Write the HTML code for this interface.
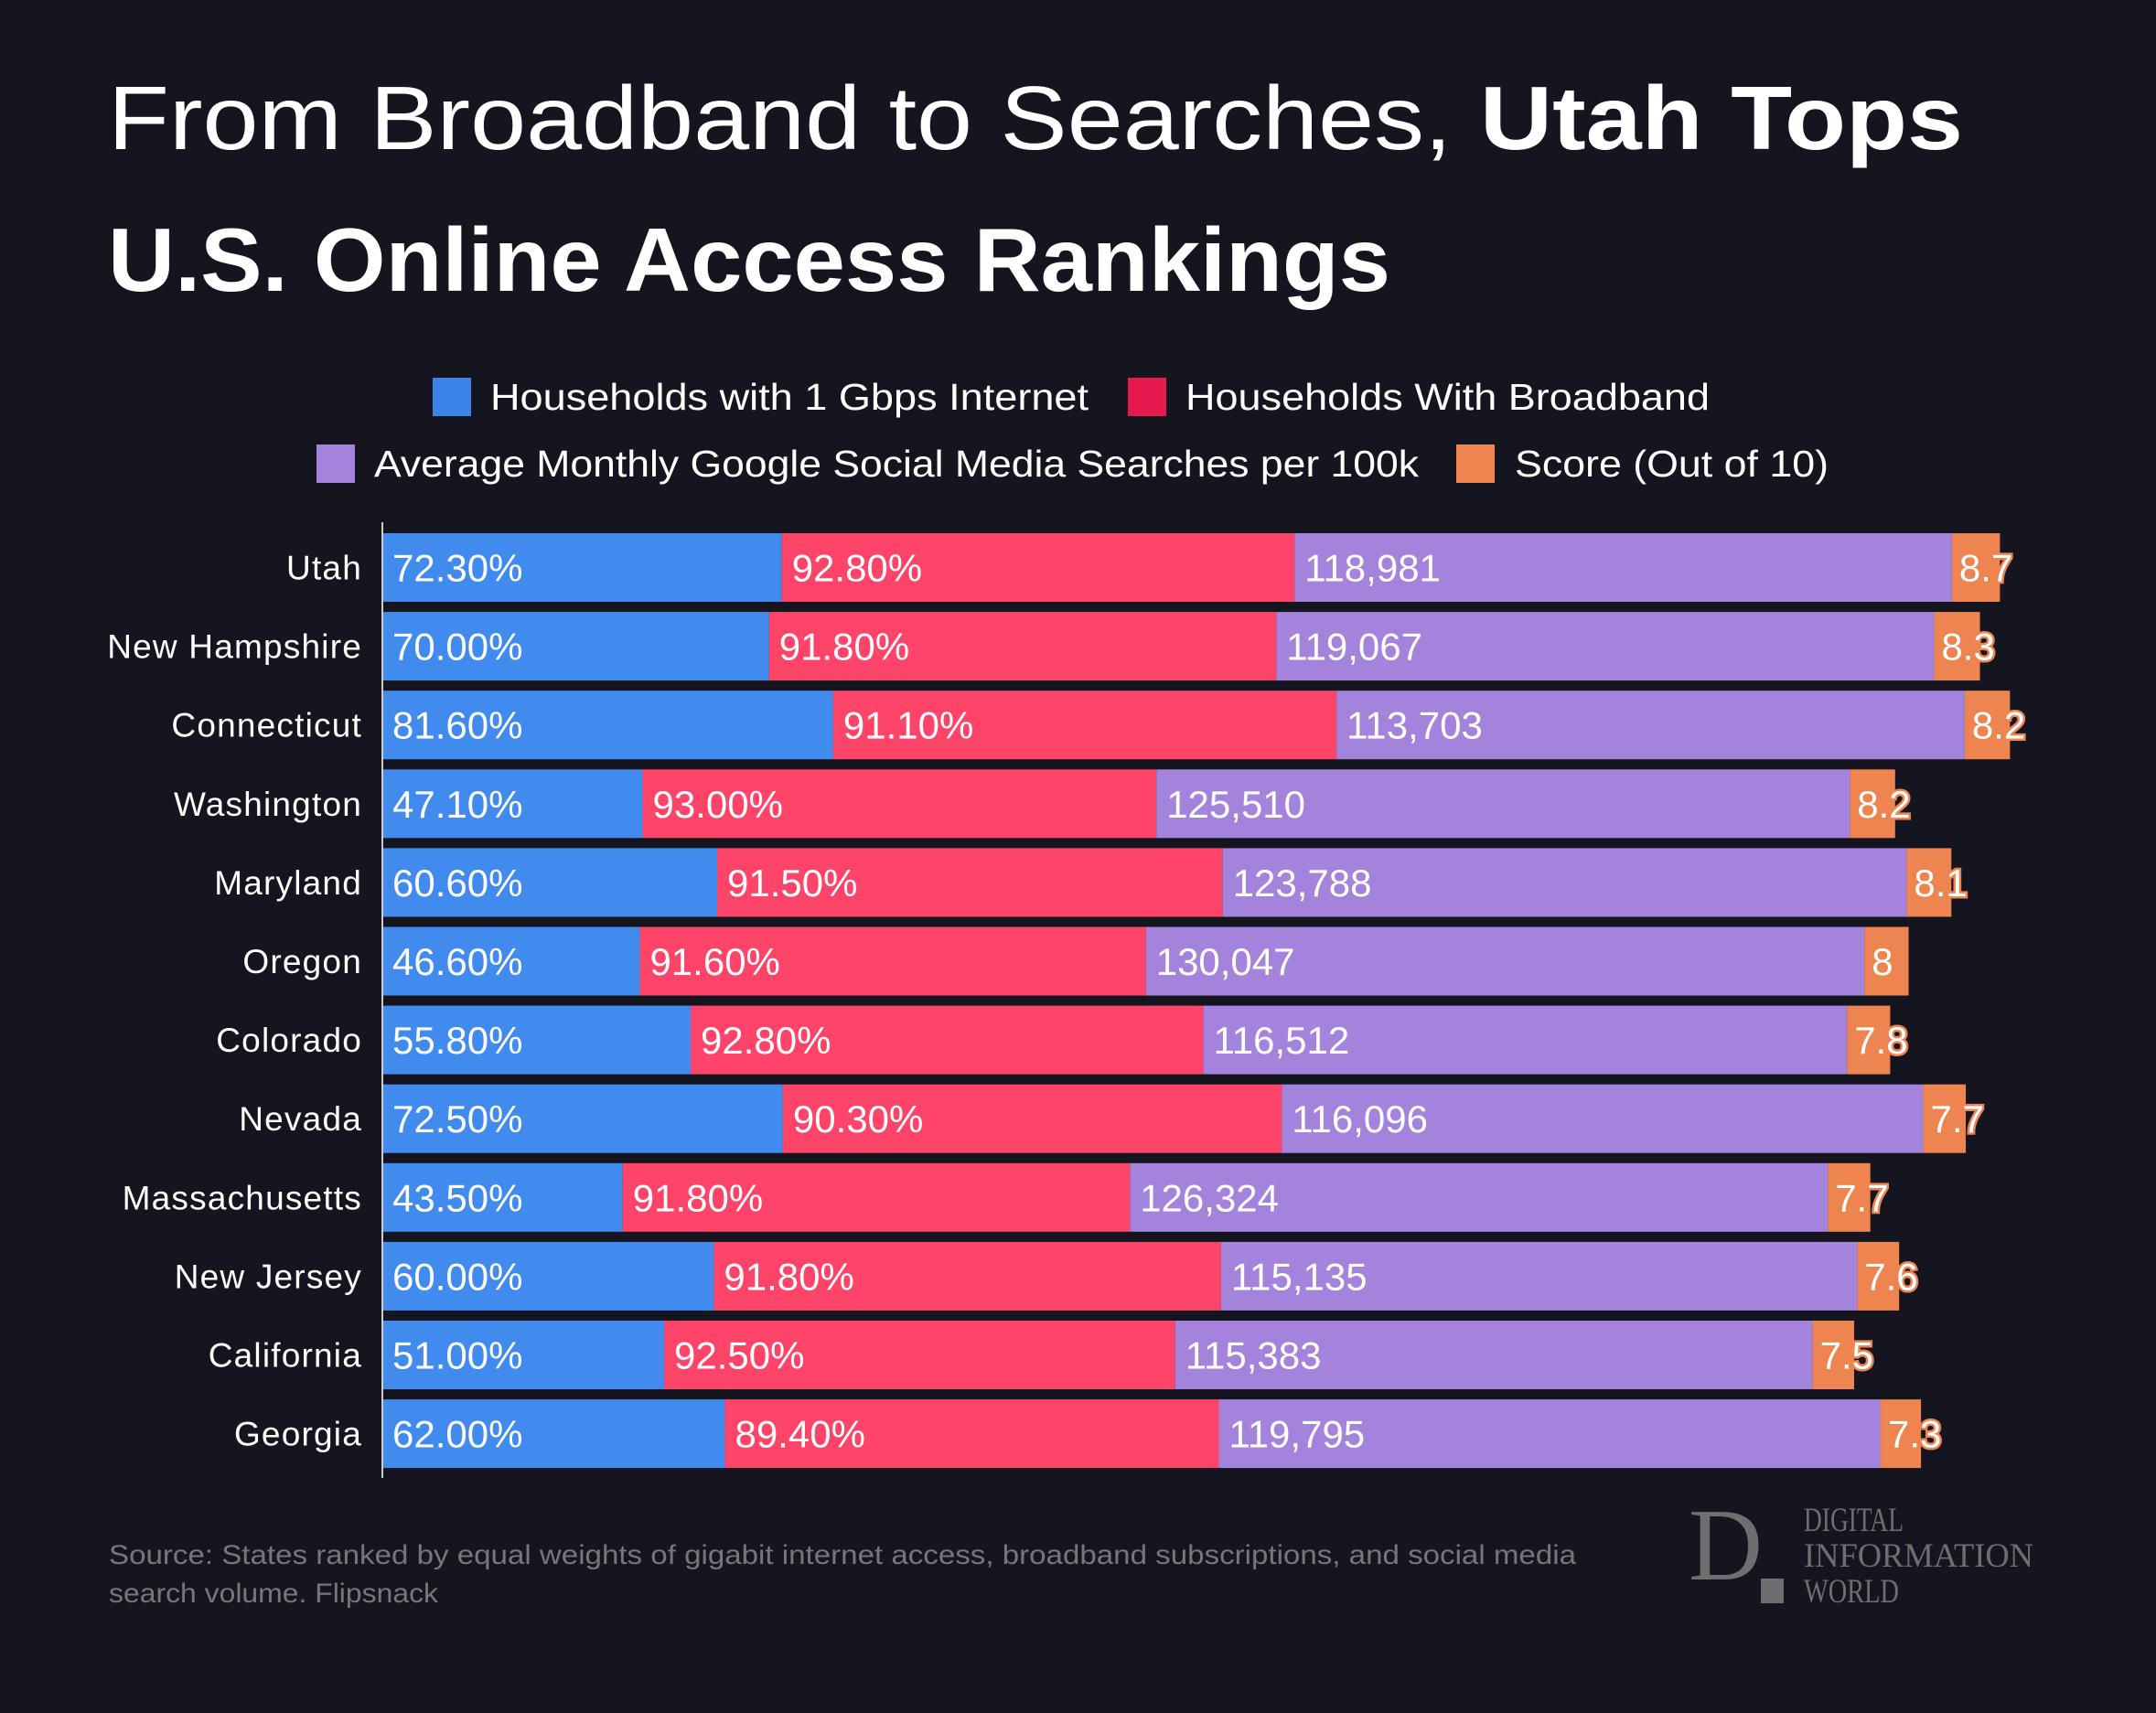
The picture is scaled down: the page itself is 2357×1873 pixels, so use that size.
<!DOCTYPE html>
<html><head><meta charset="utf-8">
<style>
html,body{margin:0;padding:0;background:#151520;}
svg{display:block;}
text{font-family:"Liberation Sans",sans-serif;}
text.serif{font-family:"Liberation Serif",serif;}
</style></head>
<body>
<svg id="chart" width="2357" height="1873" viewBox="0 0 2357 1873" xmlns="http://www.w3.org/2000/svg">
<rect width="2357" height="1873" fill="#151520"/>
<text x="118" y="163" font-size="98" fill="#ffffff" textLength="2028" lengthAdjust="spacingAndGlyphs">From Broadband to Searches, <tspan font-weight="bold">Utah Tops</tspan></text>
<text x="118" y="318" font-size="98" fill="#ffffff" font-weight="bold" textLength="1402" lengthAdjust="spacingAndGlyphs">U.S. Online Access Rankings</text>

<g>
<g>
<rect x="473" y="413" width="42" height="42" fill="#3b84ea"/>
<text x="536" y="448" font-size="41" fill="#ffffff" textLength="654" lengthAdjust="spacingAndGlyphs">Households with 1 Gbps Internet</text></g>
<g>
<rect x="1233" y="413" width="42" height="42" fill="#e51a4f"/>
<text x="1296" y="448" font-size="41" fill="#ffffff" textLength="573" lengthAdjust="spacingAndGlyphs">Households With Broadband</text></g>
<g>
<rect x="346" y="486" width="42" height="42" fill="#a383db"/>
<text x="409" y="521" font-size="41" fill="#ffffff" textLength="1142" lengthAdjust="spacingAndGlyphs">Average Monthly Google Social Media Searches per 100k</text></g>
<g>
<rect x="1592" y="486" width="42" height="42" fill="#ee844f"/>
<text x="1656" y="521" font-size="41" fill="#ffffff" textLength="343" lengthAdjust="spacingAndGlyphs">Score (Out of 10)</text></g>
</g>

<g id="bars"></g>
<line x1="418" y1="571" x2="418" y2="1616" stroke="#cccccc" stroke-width="2"/>

<text x="119" y="1710" font-size="30" fill="#777777" textLength="1604" lengthAdjust="spacingAndGlyphs">Source: States ranked by equal weights of gigabit internet access, broadband subscriptions, and social media</text>
<text x="119" y="1752" font-size="30" fill="#777777" textLength="360" lengthAdjust="spacingAndGlyphs">search volume. Flipsnack</text>

<g fill="#6e6e6e">
<text class="serif" x="1846" y="1727" font-size="112">D</text>
<rect x="1925" y="1726" width="25" height="27"/>
<text class="serif" x="1972" y="1674" font-size="37" textLength="109" lengthAdjust="spacingAndGlyphs">DIGITAL</text>
<text class="serif" x="1972" y="1713" font-size="37" textLength="251" lengthAdjust="spacingAndGlyphs">INFORMATION</text>
<text class="serif" x="1972" y="1752" font-size="37" textLength="104" lengthAdjust="spacingAndGlyphs">WORLD</text>
</g>
</svg>
<script>
const states = ["Utah","New Hampshire","Connecticut","Washington","Maryland","Oregon","Colorado","Nevada","Massachusetts","New Jersey","California","Georgia"];
const gigabit = [72.3,70.0,81.6,47.1,60.6,46.6,55.8,72.5,43.5,60.0,51.0,62.0];
const broadband = [92.8,91.8,91.1,93.0,91.5,91.6,92.8,90.3,91.8,91.8,92.5,89.4];
const searches = [118981,119067,113703,125510,123788,130047,116512,116096,126324,115135,115383,119795];
const scores = [8.7,8.3,8.2,8.2,8.1,8,7.8,7.7,7.7,7.6,7.5,7.3];

const NS="http://www.w3.org/2000/svg";
const g=document.getElementById('bars');
const x0=418, unit=6.04, top0=583, pitch=86.1, bh=75;
function xs(v){return v*unit;}
function yband(i){return top0+i*pitch;}
function mk(tag,attrs){const e=document.createElementNS(NS,tag);for(const k in attrs)e.setAttribute(k,attrs[k]);return e;}
const colors=["#418bee","#ff4469","#a383db","#ee844f"];
const keys=["gigabit","broadband","searches","score"];
states.forEach((s,i)=>{
  const y=yband(i);
  const lab=mk('text',{x:396,y:y+bh/2+13,'font-size':37,fill:'#ffffff','text-anchor':'end','letter-spacing':'1.2'});
  
  
  lab.textContent=s; g.appendChild(lab);
  const vals=[gigabit[i],broadband[i],searches[i]/1000,scores[i]];
  const txt=[gigabit[i].toFixed(2)+"%",broadband[i].toFixed(2)+"%",searches[i].toLocaleString('en-US'),String(scores[i])];
  let cx=x0;
  vals.forEach((v,k)=>{
    const w=xs(v);
    const r=mk('rect',{x:cx,y:y,width:w,height:bh,fill:colors[k]});
    
    
    g.appendChild(r);
    const t=mk('text',{x:cx+(k==3?8:11),y:y+bh/2+15,'font-size':42,fill:'#ffffff'});
    if(k==3){t.setAttribute('stroke','#ee844f');t.setAttribute('stroke-width','5');t.setAttribute('paint-order','stroke');}
    
    
    t.textContent=txt[k]; g.appendChild(t);
    cx+=w;
  });
});
</script>
</body></html>
